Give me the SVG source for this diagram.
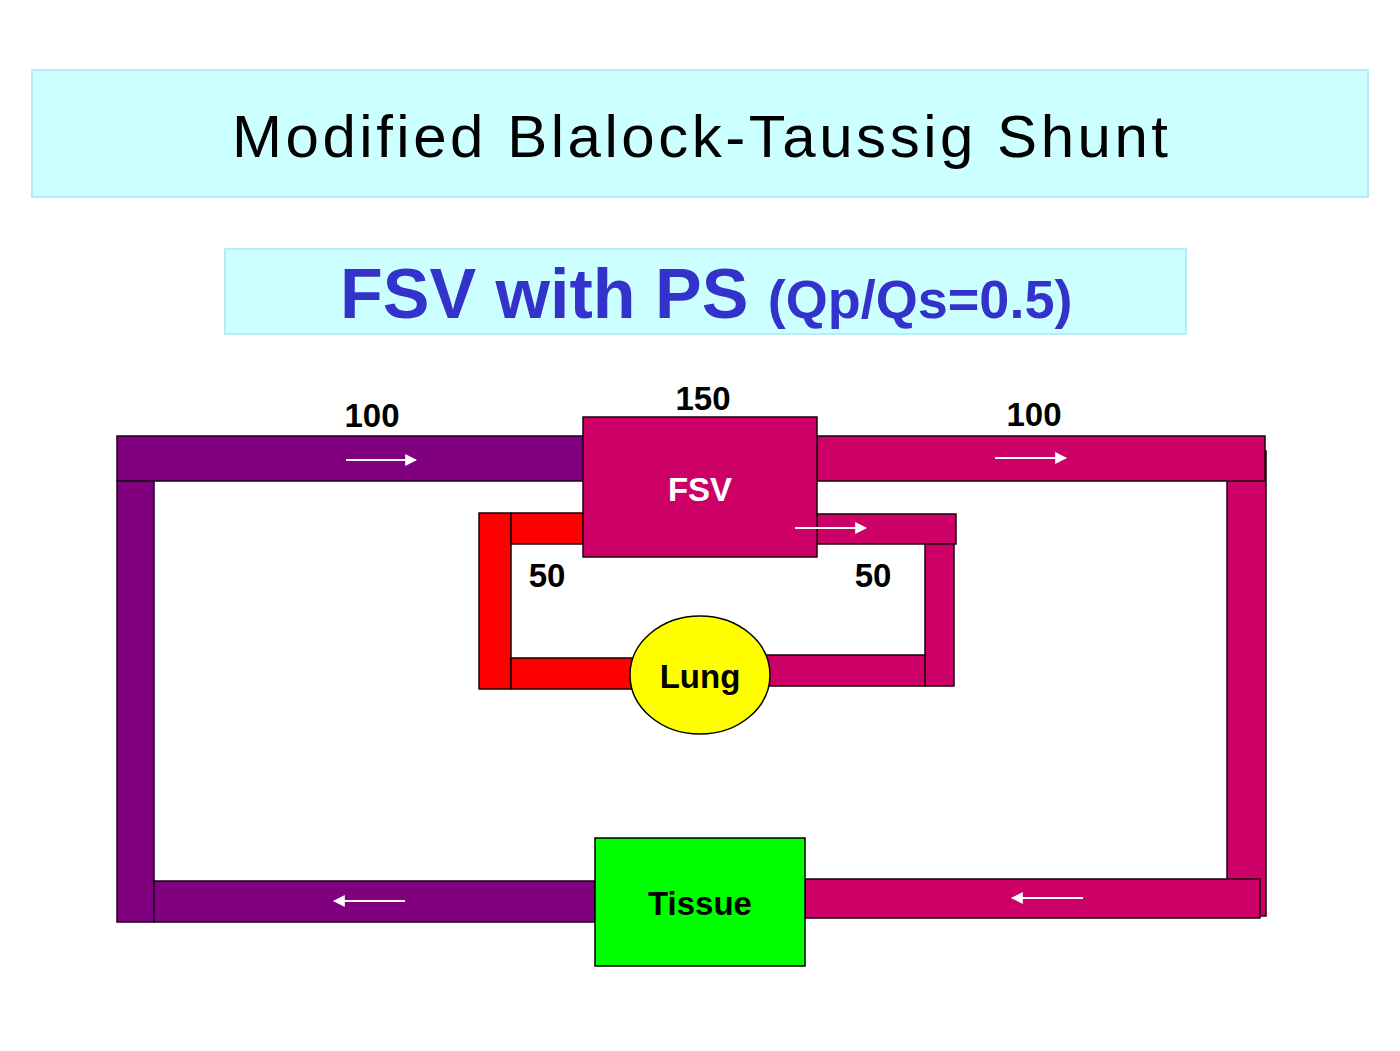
<svg xmlns="http://www.w3.org/2000/svg" width="1400" height="1051" viewBox="0 0 1400 1051">
<defs>
<style>
.band{fill:#ccffff;stroke:#b8ecf8;stroke-width:2}
.purple{fill:#800080;stroke:#1a001a;stroke-width:1.5}
.mag{fill:#cc0066;stroke:#1a000d;stroke-width:1.5}
.red{fill:#ff0000;stroke:#1a0000;stroke-width:1.5}
.arr{stroke:#ffffff;stroke-width:2;fill:none}
.num{font-family:"Liberation Sans",Arial,sans-serif;font-weight:bold;font-size:33px;fill:#000;text-anchor:middle}
.lbl{font-family:"Liberation Sans",Arial,sans-serif;font-weight:bold;font-size:33px;text-anchor:middle}
</style>
<marker id="ah" viewBox="0 0 10 10" refX="9" refY="5" markerWidth="6" markerHeight="6" orient="auto" markerUnits="strokeWidth">
<path d="M0,0 L10,5 L0,10 z" fill="#ffffff"/>
</marker>
</defs>
<rect width="1400" height="1051" fill="#ffffff"/>
<g id="title">
<rect class="band" x="32" y="70" width="1336" height="127"/>
<text x="700" y="157" font-family="Liberation Sans,Arial,sans-serif" font-size="60" text-anchor="middle" textLength="936" lengthAdjust="spacing" fill="#000">Modified Blalock-Taussig Shunt</text>
</g>
<g id="subtitle">
<rect class="band" x="225" y="249" width="961" height="85"/>
<text x="340" y="318" font-family="Liberation Sans,Arial,sans-serif" font-weight="bold" fill="#3333cc"><tspan font-size="70">FSV with PS </tspan><tspan font-size="54">(Qp/Qs=0.5)</tspan></text>
</g>
<g id="connectors">
<rect class="purple" x="117" y="436" width="470" height="45"/>
<rect class="purple" x="117" y="481" width="37" height="441"/>
<rect class="purple" x="154" y="881" width="441" height="41"/>
<rect class="mag" x="1227" y="451" width="39" height="465"/>
<rect class="mag" x="817" y="436" width="448" height="45"/>
<rect class="mag" x="805" y="879" width="455" height="39"/>
<rect class="red" x="479" y="513" width="32" height="176"/>
<rect class="red" x="511" y="513" width="74" height="31"/>
<rect class="red" x="511" y="658" width="130" height="31"/>
<rect class="mag" x="817" y="514" width="139" height="30"/>
<rect class="mag" x="925" y="544" width="29" height="142"/>
<rect class="mag" x="760" y="655" width="165" height="31"/>
</g>
<g id="fsv">
<rect x="583" y="417" width="234" height="140" fill="#cc0066" stroke="#1a000d" stroke-width="1.5"/>
<text class="lbl" x="700" y="501" fill="#ffffff">FSV</text>
</g>
<g id="lung">
<ellipse cx="700" cy="675" rx="70" ry="59" fill="#ffff00" stroke="#000" stroke-width="1.5"/>
<text class="lbl" x="700" y="688" fill="#000">Lung</text>
</g>
<g id="tissue">
<rect x="595" y="838" width="210" height="128" fill="#00ff00" stroke="#000" stroke-width="1.5"/>
<text class="lbl" x="700" y="915" fill="#000">Tissue</text>
</g>
<g id="flow-arrows">
<line class="arr" x1="346" y1="460" x2="416" y2="460" marker-end="url(#ah)"/>
<line class="arr" x1="995" y1="458" x2="1066" y2="458" marker-end="url(#ah)"/>
<line class="arr" x1="795" y1="528" x2="866" y2="528" marker-end="url(#ah)"/>
<line class="arr" x1="405" y1="901" x2="334" y2="901" marker-end="url(#ah)"/>
<line class="arr" x1="1083" y1="898" x2="1012" y2="898" marker-end="url(#ah)"/>
</g>
<g id="labels">
<text class="num" x="372" y="427">100</text>
<text class="num" x="703" y="410">150</text>
<text class="num" x="1034" y="426">100</text>
<text class="num" x="547" y="587">50</text>
<text class="num" x="873" y="587">50</text>
</g>
</svg>
